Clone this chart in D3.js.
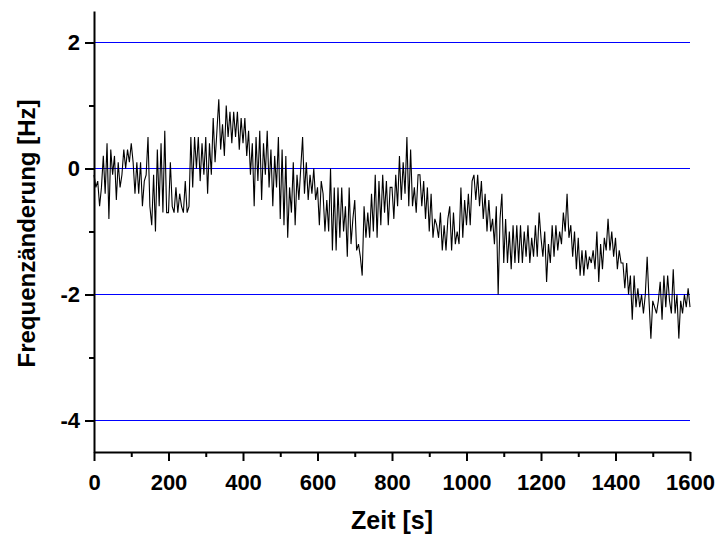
<!DOCTYPE html>
<html>
<head>
<meta charset="utf-8">
<script src="https://cdn.jsdelivr.net/npm/d3@7"></script>
<style>
  body { margin: 0; background: #fff; }
  text { font-family: "Liberation Sans", Arial, sans-serif; font-weight: bold; }
</style>
</head>
<body>
<div id="chart"></div>
<script>
// Frequenzänderung [Hz], one value every 5 s from 0 to 1600 s
const sampleStep = 5;
const freq = [
  -0.1,-0.3,-0.2,-0.6,-0.3,0.2,-0.4,0.4,-0.8,0.3,-0.1,0.2,-0.5,0.1,-0.3,-0.1,0.3,0.0,0.3,0.1,
  0.4,0.1,-0.4,0.1,-0.4,0.1,-0.6,-0.2,-0.1,0.5,-0.6,-0.9,-0.1,-1.0,0.3,-0.6,0.4,-0.7,0.6,-0.7,
  -0.7,0.1,-0.6,-0.7,-0.3,-0.7,-0.4,-0.6,-0.7,-0.2,-0.7,-0.6,0.5,-0.3,0.5,0.0,0.5,-0.2,0.4,-0.1,
  0.5,-0.4,0.4,-0.1,0.8,0.1,0.6,1.1,0.3,0.7,0.2,1.0,0.5,0.9,0.4,0.9,0.5,0.9,0.3,0.8,
  0.4,0.8,0.2,0.6,-0.1,0.4,-0.6,0.5,-0.2,0.6,-0.5,0.4,-0.1,0.6,-0.3,0.3,-0.6,0.2,-0.3,0.5,
  -0.8,0.3,-0.9,0.2,-1.1,-0.3,-0.7,0.1,-0.9,-0.1,-0.5,0.0,0.5,-0.4,0.1,-0.5,-0.1,-0.4,0.0,-0.5,
  -0.3,-0.9,-0.2,-0.4,-1.0,-0.5,-1.0,0.0,-1.3,-0.3,-1.3,-0.3,-1.1,-0.3,-1.0,-0.6,-1.4,-0.3,-1.2,-0.8,
  -0.5,-1.3,-1.2,-1.4,-1.7,-0.6,-1.1,-0.7,-1.1,-0.4,-1.0,-0.1,-1.1,-0.2,-0.9,-0.1,-0.7,-0.2,-0.9,-0.3,
  -0.3,-0.8,-0.1,-0.6,0.2,-0.5,0.1,-0.4,0.5,-0.6,0.3,-0.6,-0.3,-0.7,-0.1,-0.1,-0.6,-0.2,-0.8,-0.3,
  -1.0,-0.4,-1.1,-0.8,-0.9,-1.1,-0.7,-1.3,-0.9,-1.3,-0.8,-0.6,-1.3,-0.7,-1.2,-1.0,-1.2,-0.3,-1.1,-0.5,
  -0.9,-0.4,-0.9,-0.2,-0.1,-0.5,-0.1,-0.6,-0.2,-0.8,-0.4,-1.0,-0.5,-1.0,-0.8,-1.2,-0.6,-2.0,-0.8,-0.4,
  -1.5,-0.8,-1.5,-1.0,-1.6,-0.9,-1.5,-0.9,-1.5,-0.9,-1.5,-1.0,-1.4,-0.9,-1.5,-1.1,-1.4,-0.9,-1.4,-0.7,
  -1.1,-1.4,-1.0,-1.8,-1.2,-1.5,-0.9,-1.4,-0.9,-1.3,-1.0,-1.2,-0.7,-1.0,-0.4,-1.1,-0.9,-1.4,-1.0,-1.6,
  -1.1,-1.7,-1.3,-1.7,-1.3,-1.6,-1.4,-1.5,-1.3,-1.6,-1.0,-1.8,-1.2,-1.6,-1.1,-1.3,-0.8,-1.3,-1.0,-1.4,
  -1.1,-1.6,-1.3,-1.5,-1.5,-1.9,-1.5,-2.0,-1.7,-2.4,-1.7,-2.2,-1.9,-2.2,-2.0,-2.3,-2.0,-1.4,-2.1,-2.7,
  -2.1,-2.2,-2.3,-2.1,-1.8,-2.4,-1.7,-2.2,-1.7,-2.1,-2.3,-1.6,-2.3,-2.0,-2.7,-2.1,-2.3,-2.0,-2.2,-1.9,
  -2.2
];
const xTicks = [0, 200, 400, 600, 800, 1000, 1200, 1400, 1600];
const xMinorTicks = [100, 300, 500, 700, 900, 1100, 1300, 1500];
const yTicks = [-4, -2, 0, 2];
const yMinorTicks = [-3, -1, 1];
const gridValues = [-4, -2, 0, 2];

const data = freq.map((v, i) => ({t: i * sampleStep, v: v}));

const W = 715, H = 537;
const margin = {top: 11, right: 25, bottom: 85, left: 94};
const width = W - margin.left - margin.right,
      height = H - margin.top - margin.bottom;

const svg = d3.select("#chart")
  .append("svg")
    .attr("width", W)
    .attr("height", H)
  .append("g")
    .attr("transform", `translate(${margin.left}, ${margin.top})`);

const x = d3.scaleLinear().domain([0, 1600]).range([0, width]);
const y = d3.scaleLinear().domain([-4.5, 2.5]).range([height, 0]);

// blue reference lines
svg.append("g")
  .selectAll("line")
  .data(gridValues)
  .join("line")
    .attr("x1", 0)
    .attr("x2", width)
    .attr("y1", d => y(d))
    .attr("y2", d => y(d))
    .attr("stroke", "#0000ff")
    .attr("stroke-width", 1);

// data line
svg.append("path")
  .datum(data)
  .attr("d", d3.line().x(d => x(d.t)).y(d => y(d.v)))
  .attr("fill", "none")
  .attr("stroke", "#000")
  .attr("stroke-width", 1.1);

// x axis
const xAxis = svg.append("g")
  .attr("transform", `translate(0, ${height})`)
  .call(d3.axisBottom(x).tickValues(xTicks).tickSize(9).tickPadding(13)
    .tickFormat(d3.format("d")).tickSizeOuter(0));
svg.append("g")
  .attr("transform", `translate(0, ${height})`)
  .call(d3.axisBottom(x).tickValues(xMinorTicks).tickSize(5).tickFormat("").tickSizeOuter(0))
  .select(".domain").remove();

// y axis
const yAxis = svg.append("g")
  .call(d3.axisLeft(y).tickValues(yTicks).tickSize(9).tickPadding(5)
    .tickFormat(d => d < 0 ? "-" + Math.abs(d) : d).tickSizeOuter(0));
svg.append("g")
  .call(d3.axisLeft(y).tickValues(yMinorTicks).tickSize(5).tickFormat("").tickSizeOuter(0))
  .select(".domain").remove();

svg.selectAll(".domain, .tick line").attr("stroke", "#000").attr("stroke-width", 2);
svg.selectAll(".tick text").attr("font-size", 22).attr("fill", "#000");

// axis titles
svg.append("text")
  .attr("x", width / 2)
  .attr("y", height + 77)
  .attr("text-anchor", "middle")
  .attr("font-size", 25)
  .text("Zeit [s]");

svg.append("text")
  .attr("transform", `translate(${-59}, ${height / 2 + 2}) rotate(-90)`)
  .attr("text-anchor", "middle")
  .attr("font-size", 24)
  .text("Frequenzänderung [Hz]");
</script>
</body>
</html>
